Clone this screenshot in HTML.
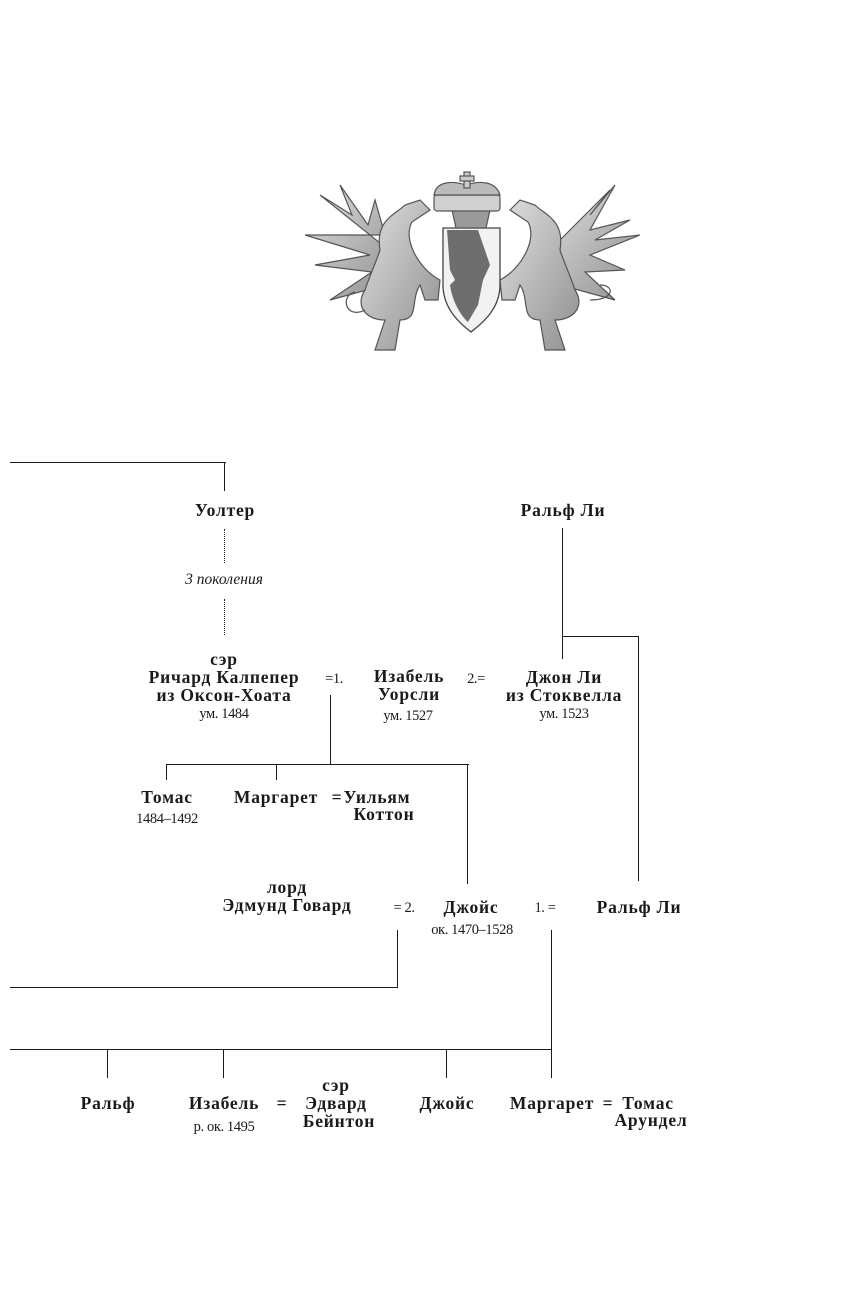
<!DOCTYPE html>
<html><head><meta charset="utf-8">
<style>
html,body{margin:0;padding:0;background:#fff;}
#c{position:relative;width:856px;height:1299px;overflow:hidden;background:#fff;font-family:"Liberation Serif","DejaVu Serif",serif;color:#1a1a1a;}
.t{position:absolute;white-space:nowrap;transform:translateX(-50%);line-height:18px;}
.b{font-weight:bold;font-size:17.5px;letter-spacing:0.8px;}
.s{font-size:14.5px;letter-spacing:-0.4px;}
.l{position:absolute;background:#1a1a1a;}
.h{height:1.3px;}
.v{width:1.3px;}
</style></head><body><div id="c">

<svg style="position:absolute;left:0;top:0" width="856" height="400">
 <defs>
  <linearGradient id="g" x1="0" y1="0" x2="1" y2="1"><stop offset="0" stop-color="#e0e0e0"/><stop offset="1" stop-color="#8f8f8f"/></linearGradient>
 </defs>
 <g stroke="#555" stroke-width="1.2" fill="url(#g)">
  <polygon points="395,255 320,195 352,215 340,185 368,225 375,200 385,235 305,235 370,255 315,265 372,272 330,300 385,285"/>
  <path d="M380,250 C375,220 395,215 405,205 L420,200 L430,210 L412,222 C402,240 420,270 440,280 L438,300 L425,300 L420,285 C410,300 420,320 400,320 L395,350 L375,350 L385,320 C365,320 355,305 365,290 C370,275 375,265 380,250 Z"/>
  <path d="M365,310 C345,320 340,295 355,292" fill="none"/>
  <polygon points="545,255 610,190 590,215 615,185 590,230 630,220 595,240 640,235 590,255 625,270 585,272 615,300 560,285"/>
  <path d="M560,250 C565,220 545,215 535,205 L520,200 L510,210 L528,222 C538,240 520,270 500,280 L502,300 L515,300 L520,285 C530,300 520,320 540,320 L545,350 L565,350 L555,320 C575,320 585,305 575,290 C570,275 565,265 560,250 Z"/>
  <path d="M590,300 C615,300 615,285 600,285" fill="none"/>
 </g>
 <path d="M443,228 L500,228 L500,285 C500,310 480,325 471,332 C462,325 443,310 443,285 Z" fill="#f2f2f2" stroke="#444" stroke-width="1.3"/>
 <path d="M447,230 L478,230 L490,265 L483,280 L478,305 L468,322 C460,315 452,300 450,285 L455,280 L450,270 Z" fill="#6e6e6e"/>
 <g stroke="#555" stroke-width="1.2" fill="#d0d0d0">
  <path d="M452,210 L490,210 L486,228 L456,228 Z" fill="#9a9a9a"/>
  <rect x="434" y="195" width="66" height="16" rx="3"/>
  <path d="M434,195 C436,182 450,180 466,185 C482,180 496,182 500,195 Z" fill="#bbb"/>
  <rect x="464" y="172" width="6" height="16" fill="#ccc"/>
  <rect x="460" y="176" width="14" height="5" fill="#ccc"/>
 </g>
</svg>

<div class="l h" style="left:10px;top:462px;width:216px"></div>
<div class="l v" style="left:224px;top:462px;height:29px"></div>
<div style="position:absolute;left:224px;top:529px;height:34px;border-left:1.3px dotted #222"></div>
<div style="position:absolute;left:224px;top:599px;height:36px;border-left:1.3px dotted #222"></div>

<div class="l v" style="left:562px;top:528px;height:131px"></div>
<div class="l h" style="left:562px;top:636px;width:77px"></div>
<div class="l v" style="left:638px;top:636px;height:245px"></div>

<div class="l v" style="left:330px;top:695px;height:70px"></div>
<div class="l h" style="left:166px;top:764px;width:303px"></div>
<div class="l v" style="left:166px;top:764px;height:16px"></div>
<div class="l v" style="left:276px;top:764px;height:16px"></div>
<div class="l v" style="left:467px;top:764px;height:120px"></div>

<div class="l v" style="left:397px;top:930px;height:58px"></div>
<div class="l h" style="left:10px;top:987px;width:388px"></div>

<div class="l v" style="left:551px;top:930px;height:148px"></div>
<div class="l h" style="left:10px;top:1049px;width:542px"></div>
<div class="l v" style="left:107px;top:1049px;height:29px"></div>
<div class="l v" style="left:223px;top:1049px;height:29px"></div>
<div class="l v" style="left:446px;top:1049px;height:29px"></div>

<div class="t b" style="left:225px;top:501px">Уолтер</div>
<div class="t" style="left:224px;top:571px;font-style:italic;font-size:15.5px">3 поколения</div>
<div class="t b" style="left:563px;top:501px">Ральф Ли</div>

<div class="t b" style="left:224px;top:650px">сэр</div>
<div class="t b" style="left:224px;top:668px">Ричард Калпепер</div>
<div class="t b" style="left:224px;top:686px">из Оксон-Хоата</div>
<div class="t s" style="left:224px;top:705px">ум. 1484</div>
<div class="t s" style="left:334px;top:670px">=1.</div>
<div class="t b" style="left:409px;top:667px">Изабель</div>
<div class="t b" style="left:409px;top:685px">Уорсли</div>
<div class="t s" style="left:408px;top:707px">ум. 1527</div>
<div class="t s" style="left:476px;top:670px">2.=</div>
<div class="t b" style="left:564px;top:668px">Джон Ли</div>
<div class="t b" style="left:564px;top:686px">из Стоквелла</div>
<div class="t s" style="left:564px;top:705px">ум. 1523</div>

<div class="t b" style="left:167px;top:788px">Томас</div>
<div class="t s" style="left:167px;top:810px">1484–1492</div>
<div class="t b" style="left:276px;top:788px">Маргарет</div>
<div class="t b" style="left:337px;top:788px">=</div>
<div class="t b" style="left:377px;top:788px">Уильям</div>
<div class="t b" style="left:384px;top:805px">Коттон</div>

<div class="t b" style="left:287px;top:878px">лорд</div>
<div class="t b" style="left:287px;top:896px">Эдмунд Говард</div>
<div class="t s" style="left:404px;top:899px">= 2.</div>
<div class="t b" style="left:471px;top:898px">Джойс</div>
<div class="t s" style="left:472px;top:921px">ок. 1470–1528</div>
<div class="t s" style="left:545px;top:899px">1. =</div>
<div class="t b" style="left:639px;top:898px">Ральф Ли</div>

<div class="t b" style="left:108px;top:1094px">Ральф</div>
<div class="t b" style="left:224px;top:1094px">Изабель</div>
<div class="t s" style="left:224px;top:1118px">р. ок. 1495</div>
<div class="t b" style="left:282px;top:1094px">=</div>
<div class="t b" style="left:336px;top:1076px">сэр</div>
<div class="t b" style="left:336px;top:1094px">Эдвард</div>
<div class="t b" style="left:339px;top:1112px">Бейнтон</div>
<div class="t b" style="left:447px;top:1094px">Джойс</div>
<div class="t b" style="left:552px;top:1094px">Маргарет</div>
<div class="t b" style="left:608px;top:1094px">=</div>
<div class="t b" style="left:648px;top:1094px">Томас</div>
<div class="t b" style="left:651px;top:1111px">Арундел</div>

</div></body></html>
